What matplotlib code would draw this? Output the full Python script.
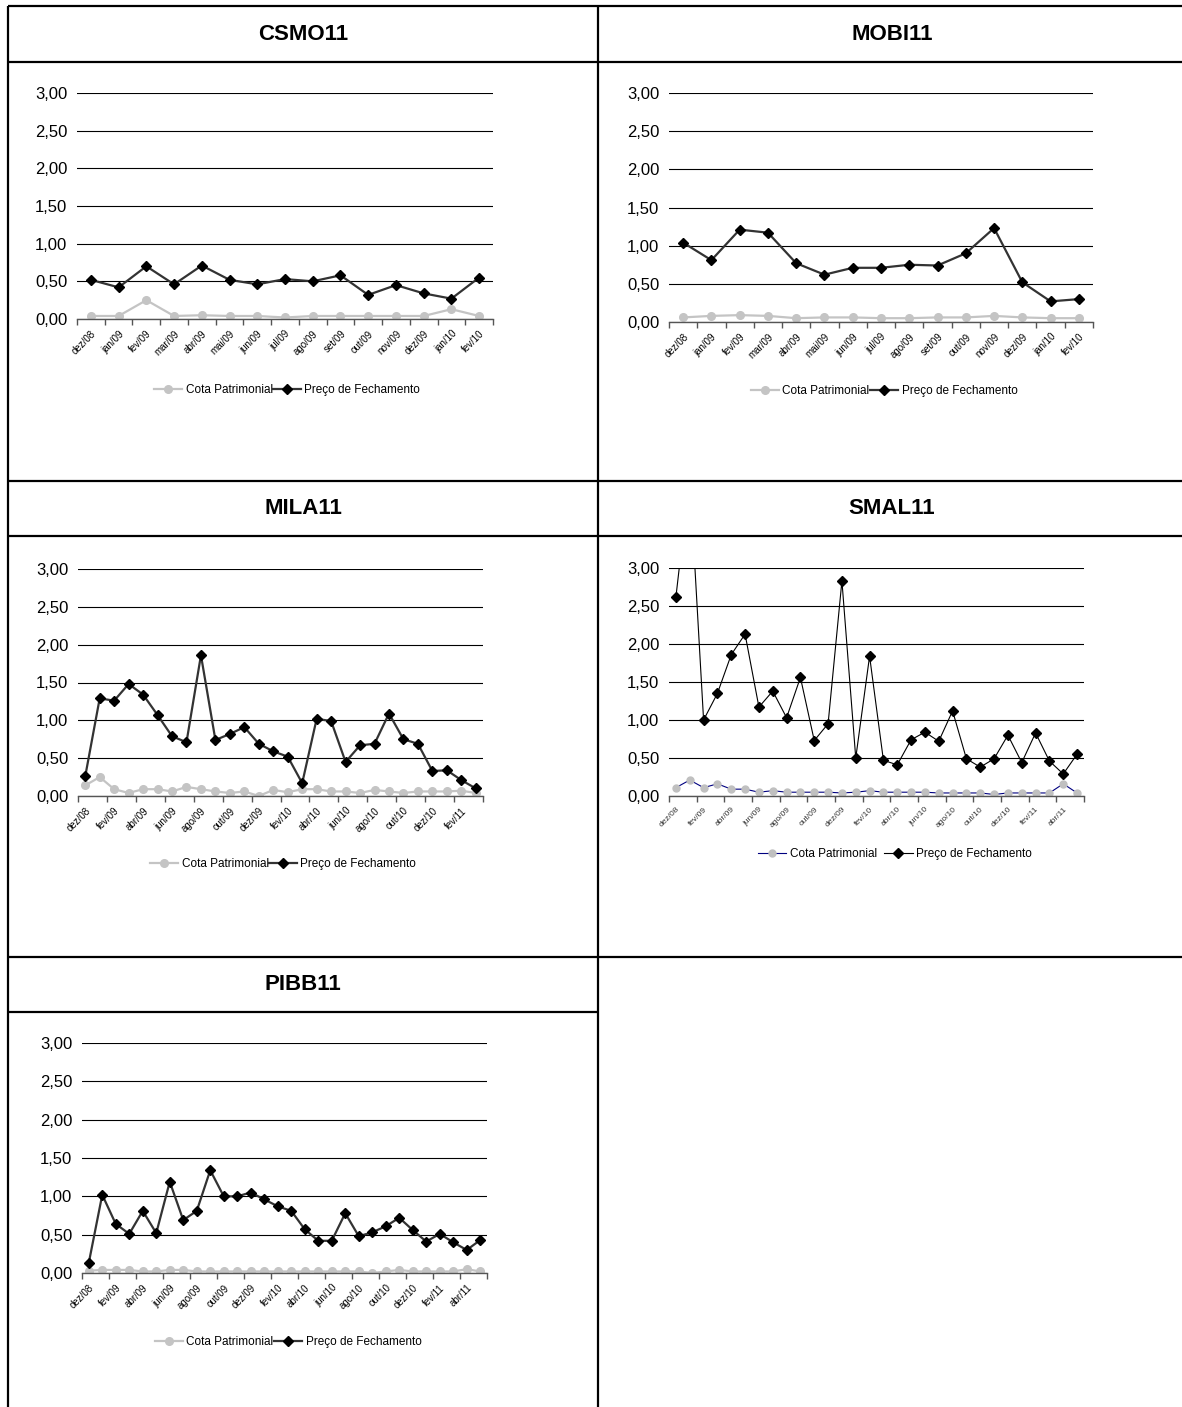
import numpy as np
import matplotlib.pyplot as plt

plt.rcParams['font.family'] = ['Liberation Sans', 'DejaVu Sans']

# --- Meses (eixo x) ---
MESES_15 = ["dez/08", "jan/09", "fev/09", "mar/09", "abr/09", "mai/09", "jun/09", "jul/09",
            "ago/09", "set/09", "out/09", "nov/09", "dez/09", "jan/10", "fev/10"]
MESES_28 = ["dez/08", "jan/09", "fev/09", "mar/09", "abr/09", "mai/09", "jun/09", "jul/09",
            "ago/09", "set/09", "out/09", "nov/09", "dez/09", "jan/10", "fev/10", "mar/10",
            "abr/10", "mai/10", "jun/10", "jul/10", "ago/10", "set/10", "out/10", "nov/10",
            "dez/10", "jan/11", "fev/11", "mar/11"]
MESES_30 = MESES_28 + ["abr/11", "mai/11"]

# --- CSMO11 ---
CSMO11_COTA = [0.04, 0.04, 0.25, 0.04, 0.05, 0.04, 0.04, 0.02, 0.04, 0.04, 0.04, 0.04, 0.04, 0.13, 0.04]
CSMO11_PRECO = [0.52, 0.42, 0.70, 0.46, 0.71, 0.52, 0.46, 0.53, 0.50, 0.58, 0.32, 0.45, 0.34, 0.27, 0.55]

# --- MOBI11 ---
MOBI11_COTA = [0.06, 0.08, 0.09, 0.08, 0.05, 0.06, 0.06, 0.05, 0.05, 0.06, 0.06, 0.08, 0.06, 0.05, 0.05]
MOBI11_PRECO = [1.04, 0.81, 1.21, 1.17, 0.77, 0.62, 0.71, 0.71, 0.75, 0.74, 0.90, 1.23, 0.52, 0.27, 0.30]

# --- MILA11 ---
MILA11_COTA = [0.14, 0.25, 0.09, 0.04, 0.09, 0.09, 0.06, 0.12, 0.09, 0.06, 0.04, 0.06, 0.00, 0.08,
               0.05, 0.09, 0.09, 0.06, 0.06, 0.04, 0.08, 0.06, 0.04, 0.06, 0.06, 0.06, 0.07, 0.04]
MILA11_PRECO = [0.26, 1.29, 1.26, 1.48, 1.34, 1.07, 0.79, 0.71, 1.86, 0.74, 0.82, 0.91, 0.69, 0.59,
                0.52, 0.17, 1.02, 0.99, 0.45, 0.67, 0.69, 1.09, 0.75, 0.69, 0.33, 0.34, 0.21, 0.10]

# --- SMAL11 ---
SMAL11_COTA = [0.11, 0.21, 0.11, 0.16, 0.09, 0.09, 0.05, 0.07, 0.05, 0.05, 0.05, 0.05, 0.04, 0.05, 0.07,
               0.05, 0.05, 0.05, 0.05, 0.04, 0.04, 0.04, 0.04, 0.02, 0.04, 0.04, 0.04, 0.04, 0.16, 0.04]
SMAL11_PRECO = [2.62, 4.20, 1.00, 1.35, 1.86, 2.13, 1.17, 1.38, 1.03, 1.56, 0.73, 0.95, 2.83, 0.50, 1.84,
                0.47, 0.41, 0.74, 0.84, 0.72, 1.12, 0.49, 0.38, 0.49, 0.80, 0.44, 0.83, 0.46, 0.29, 0.55]

# --- PIBB11 ---
PIBB11_COTA = [0.03, 0.04, 0.04, 0.04, 0.02, 0.02, 0.04, 0.04, 0.02, 0.02, 0.02, 0.02, 0.02, 0.02, 0.02,
               0.02, 0.02, 0.02, 0.02, 0.02, 0.02, 0.00, 0.02, 0.04, 0.02, 0.02, 0.02, 0.02, 0.05, 0.02]
PIBB11_PRECO = [0.13, 1.02, 0.64, 0.51, 0.81, 0.52, 1.19, 0.69, 0.81, 1.34, 1.00, 1.00, 1.05, 0.96, 0.87,
                0.81, 0.57, 0.42, 0.42, 0.78, 0.48, 0.53, 0.61, 0.72, 0.56, 0.41, 0.51, 0.40, 0.30, 0.43]

Y_TICKS = [0.0, 0.5, 1.0, 1.5, 2.0, 2.5, 3.0]

W, H = 1182, 1407
fig = plt.figure(figsize=(W / 100, H / 100), dpi=100)

# tabela de fundo (coordenadas em pixels)
bg = fig.add_axes([0, 0, 1, 1])
bg.set_xlim(0, W)
bg.set_ylim(H, 0)
bg.axis('off')

LW_TAB = 1.6
for y in [6, 62, 481, 536, 957]:
    bg.plot([8, W], [y, y], color='black', lw=LW_TAB, solid_capstyle='butt')
bg.plot([8, 598], [1012, 1012], color='black', lw=LW_TAB, solid_capstyle='butt')
bg.plot([8, 8], [6, H], color='black', lw=LW_TAB, solid_capstyle='butt')
bg.plot([598, 598], [6, H], color='black', lw=LW_TAB, solid_capstyle='butt')

for nome, cx, cy in [("CSMO11", 303, 34), ("MOBI11", 892, 34), ("MILA11", 303, 508),
                     ("SMAL11", 892, 508), ("PIBB11", 303, 984)]:
    bg.text(cx, cy, nome, ha='center', va='center', fontsize=16, fontweight='bold')


def plot_fundo(px, meses, cota, preco, passo, legenda, smal=False):
    x0, x1, y3, y0 = px
    ax = fig.add_axes([x0 / W, 1 - y0 / H, (x1 - x0) / W, (y0 - y3) / H])
    x = np.arange(len(meses))

    if smal:
        ax.plot(x, cota, color='#000080', lw=0.8, marker='o', ms=5,
                mfc='#C0C0C0', mec='#C0C0C0', label='Cota Patrimonial')
        ax.plot(x, preco, color='black', lw=0.8, marker='D', ms=5,
                mfc='black', mec='black', label='Preço de Fechamento')
        tam_rotulo = 6
        cor_rotulo = '#333333'
        espaco = 0.6
    else:
        ax.plot(x, cota, color='#C4C4C4', lw=1.6, marker='o', ms=5.5,
                mfc='#C4C4C4', mec='#C4C4C4', label='Cota Patrimonial')
        ax.plot(x, preco, color='#333333', lw=1.6, marker='D', ms=5.5,
                mfc='black', mec='black', label='Preço de Fechamento')
        tam_rotulo = 7
        cor_rotulo = 'black'
        espaco = 0.0

    ax.set_xlim(-0.5, len(meses) - 0.5)
    ax.set_ylim(0, 3)
    ax.set_yticks(Y_TICKS)
    ax.set_yticklabels([f"{v:.2f}".replace('.', ',') for v in Y_TICKS], fontsize=12)
    ax.tick_params(axis='y', length=0, pad=7)
    ax.grid(axis='y', color='black', lw=0.8)
    ax.set_axisbelow(True)
    for lado in ['top', 'right', 'left']:
        ax.spines[lado].set_visible(False)
    ax.spines['bottom'].set_color('#555555')
    ax.spines['bottom'].set_linewidth(1.0)

    ax.set_xticks(x[::passo])
    ax.set_xticklabels(meses[::passo], rotation=45, ha='right', rotation_mode='anchor',
                       fontsize=tam_rotulo, color=cor_rotulo)
    ax.tick_params(axis='x', which='major', length=0, pad=7)
    ax.set_xticks(np.arange(-0.5, len(meses), passo), minor=True)
    ax.tick_params(axis='x', which='minor', length=4, width=1.0, color='#555555', direction='out')

    lx, ly = legenda
    ax.legend(ncol=2, loc='center', bbox_to_anchor=(lx / W, 1 - ly / H), bbox_transform=fig.transFigure,
              frameon=False, fontsize=8.5, handlelength=2.4, handletextpad=0.3, columnspacing=espaco,
              borderpad=0, borderaxespad=0)
    return ax


plot_fundo((77, 493, 93, 319), MESES_15, CSMO11_COTA, CSMO11_PRECO, 1, (287, 390))
plot_fundo((669, 1093, 93, 322), MESES_15, MOBI11_COTA, MOBI11_PRECO, 1, (884, 391))
plot_fundo((78, 483, 569, 796), MESES_28, MILA11_COTA, MILA11_PRECO, 2, (283, 864))
plot_fundo((669, 1084, 568, 796), MESES_30, SMAL11_COTA, SMAL11_PRECO, 2, (895, 854), smal=True)
plot_fundo((82, 487, 1043, 1273), MESES_30, PIBB11_COTA, PIBB11_PRECO, 2, (288, 1342))

plt.savefig("out.png", dpi=100)
